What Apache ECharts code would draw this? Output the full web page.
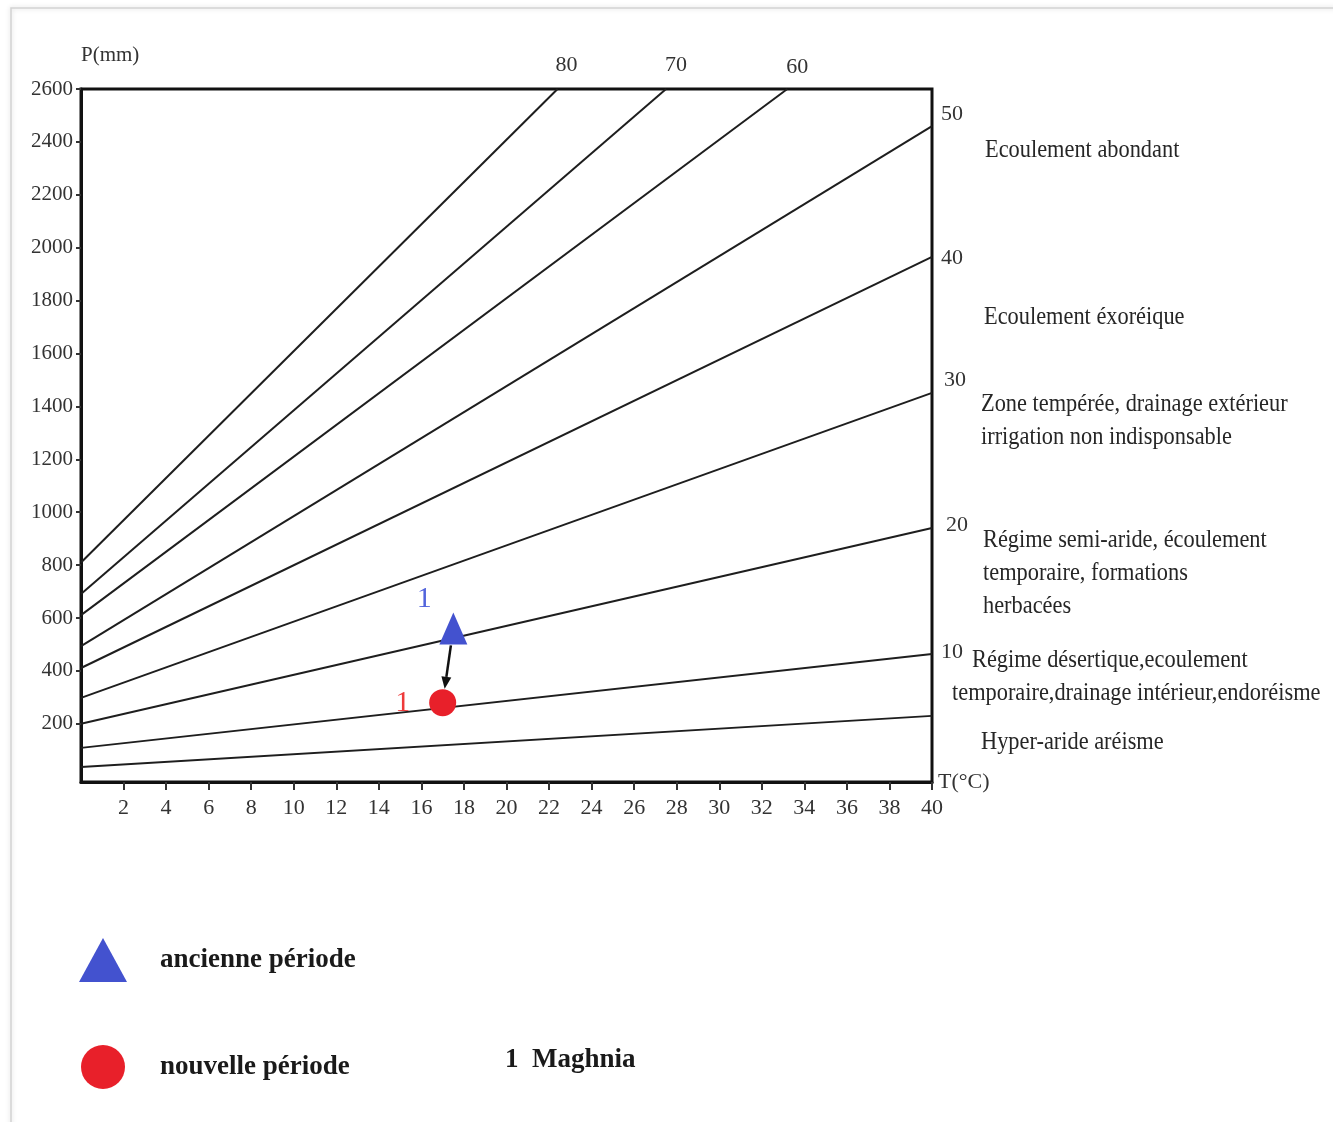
<!DOCTYPE html>
<html><head><meta charset="utf-8">
<script src="https://cdn.jsdelivr.net/npm/echarts@6/dist/echarts.min.js"></script>
<style>html,body{margin:0;padding:0;background:#fff}#c{width:1333px;height:1122px}</style>
</head><body><div id="c"></div>
<script>
// De Martonne aridity-index lines: start (T=0) and end points
const indexLabels = ['80', '70', '60', '50', '40', '30', '20', '10', '5'];
const lineStartT = [0, 0, 0, 0, 0, 0, 0, 0, 0];
const lineStartP = [810, 691, 611, 494, 411, 298, 200, 109, 37];
const lineEndT = [22.4, 27.5, 33.2, 40, 40, 40, 40, 40, 40];
const lineEndP = [2600, 2600, 2600, 2460, 1965, 1451, 940, 464, 230];

// axis ticks
const xTicks = [2, 4, 6, 8, 10, 12, 14, 16, 18, 20, 22, 24, 26, 28, 30, 32, 34, 36, 38, 40];
const yTicks = [200, 400, 600, 800, 1000, 1200, 1400, 1600, 1800, 2000, 2200, 2400, 2600];

// station Maghnia (1) for the two periods
const periods = ['ancienne période', 'nouvelle période'];
const stationLabel = '1';
const stationName = 'Maghnia';
const periodT = [17.5, 17.0];
const periodP = [560, 280];

// climate zone descriptions
const zoneTexts = [
  'Ecoulement abondant',
  'Ecoulement éxoréique',
  'Zone tempérée, drainage extérieur',
  'irrigation non indisponsable',
  'Régime semi-aride, écoulement',
  'temporaire, formations',
  'herbacées',
  'Régime désertique,ecoulement',
  'temporaire,drainage intérieur,endoréisme',
  'Hyper-aride aréisme'
];

// ---- layout / styles (not data) ----
const SERIF = '"Liberation Serif", "Times New Roman", serif';
const zonePos = [[985,150],[984,317],[981,404],[981,437],[983,540],[983,573],[983,606],[972,660],[952,693],[981,742]];
const endLabelOffset = {
  '80': [9, -24], '70': [10, -24], '60': [10, -22],
  '50': [9, -12], '40': [9, 1], '30': [12, -13], '20': [14, -3], '10': [9, -2]
};

const lineSeries = indexLabels.map((lab, i) => {
  const top = lineEndP[i] >= 2600;
  return {
    type: 'line', name: 'I=' + lab, z: 2, silent: true,
    symbol: 'none', animation: false,
    lineStyle: { color: '#1e1e1e', width: 2 },
    data: [[lineStartT[i], lineStartP[i]], [lineEndT[i], lineEndP[i]]],
    endLabel: {
      show: lab !== '5',
      formatter: lab,
      distance: 0,
      offset: endLabelOffset[lab] || [0, 0],
      align: top ? 'center' : 'left',
      verticalAlign: 'middle',
      fontFamily: SERIF, fontSize: 22, color: '#333'
    }
  };
});

const chart = echarts.init(document.getElementById('c'), null, { renderer: 'canvas' });

chart.setOption({
  backgroundColor: '#fff',
  animation: false,
  grid: {
    left: 81, top: 89, width: 851, height: 693,
    show: true, borderColor: '#111', borderWidth: 3, backgroundColor: 'transparent'
  },
  xAxis: {
    type: 'value', min: 0, max: 40, interval: 2,
    name: 'T(°C)', nameLocation: 'end', nameGap: 6,
    nameTextStyle: { fontFamily: SERIF, fontSize: 22, color: '#333', verticalAlign: 'middle', padding: [6, 0, 0, 0] },
    axisLine: { show: true, onZero: false, lineStyle: { color: '#111', width: 3 } },
    axisTick: { show: true, length: 8, lineStyle: { color: '#333', width: 2 }, customValues: xTicks },
    axisLabel: { customValues: xTicks, formatter: v => String(v), fontFamily: SERIF, fontSize: 22, color: '#333', margin: 15 },
    splitLine: { show: false }
  },
  yAxis: {
    type: 'value', min: -20, max: 2600,
    name: 'P(mm)', nameLocation: 'end', nameGap: 34,
    nameTextStyle: { fontFamily: SERIF, fontSize: 21, color: '#333', align: 'left', verticalAlign: 'middle' },
    axisLine: { show: true, onZero: false, lineStyle: { color: '#111', width: 3 } },
    axisTick: { show: true, length: 5, lineStyle: { color: '#333', width: 2 }, customValues: yTicks },
    axisLabel: { customValues: yTicks, formatter: v => String(v), fontFamily: SERIF, fontSize: 21, color: '#333', margin: 8 },
    splitLine: { show: false }
  },
  legend: {
    data: periods,
    orient: 'vertical', left: 74, top: 933,
    itemWidth: 48, itemHeight: 44, itemGap: 63,
    selectedMode: false,
    textStyle: { fontFamily: SERIF, fontSize: 27, fontWeight: 'bold', color: '#1a1a1a', padding: [0, 0, 0, 28] }
  },
  graphic: [
    {
      type: 'rect', z: -10, silent: true,
      shape: { x: 11, y: 8, width: 1400, height: 1200 },
      style: { fill: null, stroke: '#d2d2d2', lineWidth: 1.5, shadowBlur: 5, shadowColor: 'rgba(0,0,0,0.18)' }
    },
    ...zoneTexts.map((t, i) => ({
      type: 'text', x: zonePos[i][0], y: zonePos[i][1], scaleX: 0.86, silent: true,
      style: { text: t, font: '26px ' + SERIF, fill: '#262626', verticalAlign: 'middle', align: 'left' }
    })),
    {
      type: 'text', x: 505, y: 1060, silent: true,
      style: { text: stationLabel + '  ' + stationName, font: 'bold 27px ' + SERIF, fill: '#1a1a1a', verticalAlign: 'middle' }
    }
  ],
  series: [
    ...lineSeries,
    {
      type: 'custom', name: 'arrow', coordinateSystem: 'cartesian2d', silent: true, z: 3,
      data: [[periodT[0], periodP[0], periodT[1], periodP[1]]],
      encode: { x: [0, 2], y: [1, 3] },
      renderItem: function (params, api) {
        const a = api.coord([api.value(0), api.value(1)]);
        const b = api.coord([api.value(2), api.value(3)]);
        const dx = b[0] - a[0], dy = b[1] - a[1];
        const L = Math.hypot(dx, dy), ux = dx / L, uy = dy / L;
        const s = [a[0] + ux * 17, a[1] + uy * 17];
        const e = [b[0] - ux * 14, b[1] - uy * 14];
        const h = 12, w = 5;
        const base = [e[0] - ux * h, e[1] - uy * h];
        return {
          type: 'group', children: [
            { type: 'line', shape: { x1: s[0], y1: s[1], x2: base[0], y2: base[1] }, style: { stroke: '#111', lineWidth: 2.5 } },
            { type: 'polygon', shape: { points: [e, [base[0] - uy * w, base[1] + ux * w], [base[0] + uy * w, base[1] - ux * w]] }, style: { fill: '#111' } }
          ]
        };
      }
    },
    {
      type: 'scatter', name: periods[0], z: 4,
      symbol: 'triangle', symbolSize: [28, 32],
      itemStyle: { color: '#4352cf', opacity: 1 },
      label: { show: true, formatter: stationLabel, position: 'inside', offset: [-29, -29], fontFamily: SERIF, fontSize: 30, color: '#5264dc' },
      data: [[periodT[0], periodP[0]]]
    },
    {
      type: 'scatter', name: periods[1], z: 4,
      symbol: 'circle', symbolSize: 27,
      itemStyle: { color: '#e8202a', opacity: 1 },
      label: { show: true, formatter: stationLabel, position: 'inside', offset: [-40, 0], fontFamily: SERIF, fontSize: 30, color: '#ee3a3a' },
      data: [[periodT[1], periodP[1]]]
    }
  ]
});
</script>
</body></html>
